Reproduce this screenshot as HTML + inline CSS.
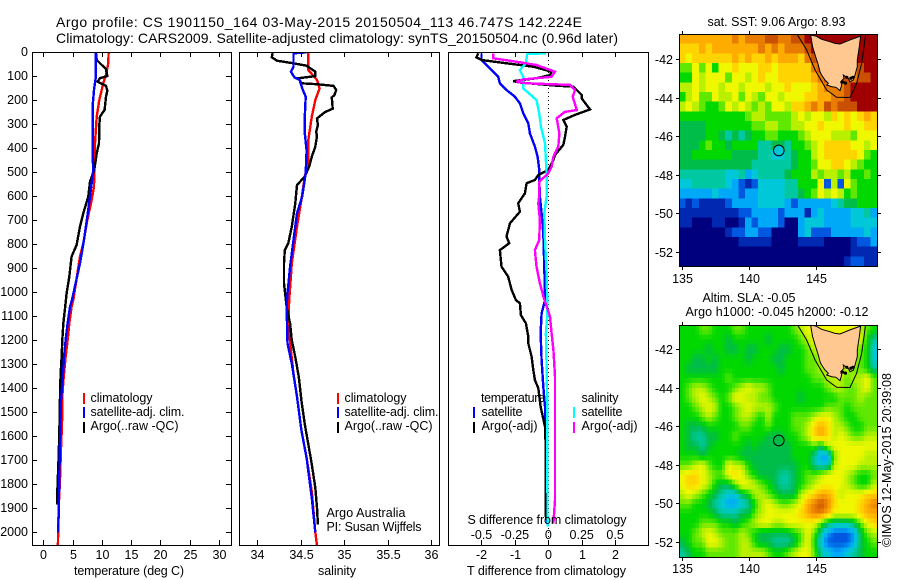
<!DOCTYPE html>
<html>
<head>
<meta charset="utf-8">
<title>Argo profile</title>
<style>
html,body{margin:0;padding:0;background:#fff;}
svg{display:block;}
text{font-family:"Liberation Sans",sans-serif;fill:#000;font-size:12.5px;}
.title{font-size:14px;}
</style>
</head>
<body>
<svg id="chart" xmlns="http://www.w3.org/2000/svg" width="900" height="580" viewBox="0 0 900 580">
  <defs>
    <clipPath id="clip-t"><rect x="32" y="52" width="200" height="494"/></clipPath>
    <clipPath id="clip-s"><rect x="239" y="52" width="201" height="494"/></clipPath>
    <clipPath id="clip-d"><rect x="448" y="52" width="201" height="494"/></clipPath>
    <clipPath id="clip-m1"><rect x="679" y="34" width="198" height="232"/></clipPath>
    <clipPath id="clip-m2"><rect x="679" y="325" width="198" height="232"/></clipPath>
  </defs>
  <g id="layer-maps"></g>
  <g id="layer-lines"></g>
  <g id="layer-axes"></g>

  <text class="title" x="56" y="27" textLength="526" lengthAdjust="spacing">Argo profile: CS 1901150_164 03-May-2015 20150504_113 46.747S 142.224E</text>
  <text class="title" x="56" y="43" textLength="562" lengthAdjust="spacing">Climatology: CARS2009. Satellite-adjusted climatology: synTS_20150504.nc (0.96d later)</text>

  <text x="74" y="575" textLength="110" lengthAdjust="spacing">temperature (deg C)</text>
  <text x="318" y="575" textLength="38" lengthAdjust="spacing">salinity</text>
  <text x="467" y="575" textLength="159" lengthAdjust="spacing">T difference from climatology</text>
  <text x="467.5" y="524" textLength="159" lengthAdjust="spacing">S difference from climatology</text>

  <g>
    <rect x="83" y="393" width="2" height="11" fill="#f00"/>
    <rect x="83" y="407" width="2" height="11" fill="#00f"/>
    <rect x="83" y="422" width="2" height="11" fill="#000"/>
    <text x="90.5" y="402" textLength="62" lengthAdjust="spacing">climatology</text>
    <text x="90.5" y="416" textLength="94" lengthAdjust="spacing">satellite-adj. clim.</text>
    <text x="90.5" y="430" textLength="88" lengthAdjust="spacing">Argo(..raw -QC)</text>
  </g>
  <g>
    <rect x="337" y="393" width="2" height="11" fill="#f00"/>
    <rect x="337" y="407" width="2" height="11" fill="#00f"/>
    <rect x="337" y="422" width="2" height="11" fill="#000"/>
    <text x="344.5" y="402" textLength="62" lengthAdjust="spacing">climatology</text>
    <text x="344.5" y="416" textLength="94" lengthAdjust="spacing">satellite-adj. clim.</text>
    <text x="344.5" y="430" textLength="88" lengthAdjust="spacing">Argo(..raw -QC)</text>
    <text x="326.5" y="517" textLength="79" lengthAdjust="spacing">Argo Australia</text>
    <text x="326.5" y="531" textLength="95" lengthAdjust="spacing">PI: Susan Wijffels</text>
  </g>
  <g>
    <text x="481" y="402" textLength="64" lengthAdjust="spacing">temperature</text>
    <text x="481.5" y="416" textLength="41" lengthAdjust="spacing">satellite</text>
    <text x="481.5" y="430" textLength="56" lengthAdjust="spacing">Argo(-adj)</text>
    <rect x="473" y="407" width="2" height="11" fill="#00f"/>
    <rect x="473" y="422" width="2" height="11" fill="#000"/>
    <text x="581.5" y="402" textLength="37" lengthAdjust="spacing">salinity</text>
    <text x="581.5" y="416" textLength="41" lengthAdjust="spacing">satellite</text>
    <text x="581.5" y="430" textLength="56" lengthAdjust="spacing">Argo(-adj)</text>
    <rect x="573" y="407" width="2" height="11" fill="#0ff"/>
    <rect x="573" y="422" width="2" height="11" fill="#f0f"/>
  </g>

  <text x="707.5" y="26" textLength="138" lengthAdjust="spacing">sat. SST: 9.06 Argo: 8.93</text>
  <text x="702.5" y="302" textLength="93" lengthAdjust="spacing">Altim. SLA: -0.05</text>
  <text x="685.5" y="316" textLength="183" lengthAdjust="spacing">Argo h1000: -0.045 h2000: -0.12</text>
  <text transform="translate(891,547) rotate(-90)" x="0" y="0" textLength="174" lengthAdjust="spacing">©IMOS 12-May-2015 20:39:08</text>
</svg>

<script>
// ---- Profile data (depth in dbar, temperature in deg C, salinity in PSU) ----
const tempRedDepth = [0,46,94,129,199,268,379,476,560,629,699,796,851,962,1032,1060,1130,1200,1270,1340,1410,1550,1650,1780,1905,2055];
const tempRedValue = [11.17,11.11,10.71,10.26,9.57,9.12,8.83,8.72,8.66,8.15,7.52,6.84,6.27,5.58,5.13,4.84,4.44,4.16,3.82,3.53,3.3,3.19,3.02,2.85,2.62,2.5];
const tempBlueDepth = [0,101,157,226,435,490,601,685,782,879,976,1032,1060,1130,1200,1270,1367,1450,1620,1780,2000];
const tempBlueValue = [9.0,9.0,8.66,8.43,8.43,8.55,7.98,7.52,6.95,6.27,5.41,4.9,4.56,4.16,3.82,3.53,3.3,3.02,2.85,2.74,2.56];
const tempArgoDepth = [0,32,46,69,99,108,122,140,160,185,240,268,303,379,421,490,539,601,671,726,803,851,935,1004,1060,1130,1200,1270,1340,1435,1590,1690,1830,1885];
const tempArgoValue = [9.0,9.12,9.69,10.7,10.94,9.69,9.29,10.71,10.94,10.71,10.48,9.69,9.57,9.52,9.12,8.72,7.98,7.69,6.84,6.27,5.7,4.84,4.44,3.99,3.75,3.42,3.25,3.13,2.96,2.85,2.74,2.62,2.39,2.39];

const salRedDepth = [0,74,115,150,199,268,365,449,518,615,726,879,1032,1130,1240,1340,1435,1575,1690,1830,2000,2055];
const salRedValue = [34.59,34.59,34.69,34.72,34.67,34.63,34.59,34.59,34.55,34.51,34.46,34.40,34.37,34.36,34.39,34.42,34.46,34.51,34.57,34.63,34.67,34.69];
const salBlueDepth = [0,4,32,60,81,104,115,150,185,268,338,408,504,601,671,782,893,1004,1060,1213,1297,1435,1575,1690,1857,2000];
const salBlueValue = [34.57,34.42,34.42,34.42,34.39,34.43,34.49,34.52,34.56,34.55,34.55,34.57,34.56,34.52,34.46,34.42,34.38,34.35,34.34,34.35,34.40,34.46,34.51,34.57,34.63,34.67];
const salArgoDepth = [0,21,35,46,56,81,99,108,129,133,140,157,178,188,235,249,276,303,331,351,393,435,476,518,553,629,726,796,824,879,962,1025,1060,1130,1200,1270,1353,1450,1550,1633,1717,1814,1897,1967];
const salArgoValue = [34.18,34.17,34.23,34.42,34.57,34.67,34.67,34.48,34.51,34.69,34.88,34.91,34.89,34.86,34.87,34.78,34.69,34.70,34.68,34.69,34.67,34.63,34.60,34.55,34.46,34.44,34.40,34.36,34.32,34.31,34.31,34.33,34.34,34.38,34.40,34.44,34.48,34.51,34.55,34.59,34.63,34.67,34.69,34.70];

const diffTempSatDepth = [4,32,67,102,129,157,185,213,254,296,338,393,435,491,532,601,671,754,893,1032,1088,1171,1282,1393,1476,1588,1726,1963];
const diffTempSatValue = [-2,-2,-1.75,-1.5,-1.45,-1.25,-1,-.85,-.75,-.6,-.55,-.4,-.32,-.27,-.27,-.25,-.2,-.15,-.12,-.1,-.2,-.23,-.2,-.15,-.1,-.07,-.05,-.03];
const diffTempArgoDepth = [4,21,32,46,60,81,95,108,120,126,139,143,178,192,238,261,282,310,352,386,428,449,491,511,532,546,588,629,664,713,768,796,824,893,935,990,1032,1046,1095,1129,1185,1213,1268,1324,1365,1400,1476,1560,1629,1824,1949];
const diffTempArgoValue = [-2.1,-2.15,-2,-1.25,-.45,.1,.05,-.35,-1.05,-.85,.25,.75,1,1,1.25,.8,.45,.55,.5,.45,.2,.15,0,-.3,-.4,-.65,-.7,-.9,-.85,-1.15,-1.25,-1.17,-1.45,-1.4,-1.2,-1.1,-.97,-.85,-.82,-.67,-.6,-.6,-.5,-.45,-.4,-.3,-.23,-.1,-.08,-.08,-.07];
const diffSalSatDepth = [4,7,46,74,102,150,199,254,310,380,504,601,671,782,921,1032,1101,1171,1310,1449,1588,1976];
const diffSalSatValue = [-.018,-.158,-.168,-.213,-.188,-.188,-.088,-.068,-.055,-.025,-.013,-.013,-.03,-.025,-.013,-.008,-.008,-.018,-.013,-.008,-.008,-.005];
const diffSalArgoDepth = [4,25,35,53,81,102,113,123,129,136,157,185,241,248,275,338,393,435,477,504,539,601,629,699,782,824,893,963,1025,1101,1171,1240,1351,1588,1865,1963];
const diffSalArgoValue = [-.413,-.413,-.288,-.088,.05,.025,-.188,-.238,-.163,.163,.2,.183,.213,.125,.063,.083,.075,.038,.025,0,-.068,-.068,-.075,-.063,-.068,-.1,-.088,-.063,-.033,.013,.025,.038,.05,.05,.05,.038];

// ---- Tick labels ----
const depthTicks = [0,100,200,300,400,500,600,700,800,900,1000,1100,1200,1300,1400,1500,1600,1700,1800,1900,2000];
const tempTicks = [0,5,10,15,20,25,30];
const salTicks = [34,34.5,35,35.5,36];
const diffTempTicks = [-2,-1,0,1,2];
const diffSalTicks = [-0.5,-0.25,0,0.25,0.5];
const lonTicks = [135,140,145];
const latTicks = [-42,-44,-46,-48,-50,-52];

// ---- Map data: 0.5 degree rows, north to south; each hex digit is a colour level 0-15 ----
const sstRows = [
"ccccccccdcdddeedde"+"efffffffffff",
"bbbcbcccccccdcdcdd"+"deffffffffff",
"babbbbbbcbcbbcbccc"+"bdeeeeefffff",
"88a8a7aabaaabbabbb"+"bbdeeeeedeff",
"77a9aaa8aa9abaabbb"+"bbcdeeeedeef",
"99a9aa9aa9aaa9aaba"+"aabcdddeffff",
"79a88a99a8a98aa9aa"+"abbccddeffff",
"9a98778a9a9898aa9b"+"bcdcedeeefff",
"777777777789988889"+"a9aa9bababcb",
"666677777778899889"+"9aabaaabaabb",
"666677656567788777"+"89aaa9998aaa",
"666787767777556657"+"789abbbbaa9a",
"667777776666554456"+"779abbbbba87",
"666666666665555556"+"778aabba9877",
"555555544534555567"+"779899897787",
"445555543212444455"+"777a292a8777",
"333334333233444455"+"678a9a978777",
"212111123333444432"+"333334566777",
"111111111223333233"+"313433334453",
"110001100132333200"+"344433334444",
"000000012233220000"+"342223333343",
"000000000111110000"+"111100001223",
"000000000000000000"+"000000001111",
"000000000000000000"+"000000012211"
];
const slaRows = [
"777887778877777778"+"9aaaaaaaa987",
"777777767777767777"+"89aaaaaaaa75",
"777767766766777667"+"789aaaaa9874",
"776676777767776677"+"7889aaa99874",
"766666777777777677"+"78899aa98875",
"777777787777777777"+"7788999899a8",
"7899877789a9987777"+"7777899889a8",
"789a9878aa99887777"+"677777888988",
"7789a97789a9998777"+"777788878888",
"777898778998797778"+"889aa9877888",
"766677777887787778"+"89bcb9987788",
"765566778777766677"+"89bcb9a98899",
"766567777767666667"+"77869aaaaaaa",
"777677777666666667"+"775338aaaa99",
"889a877a9976666666"+"775449aaa999",
"abba988aba87666556"+"7889aaa98778",
"abba97668aa9876556"+"789aaaa98779",
"9a9876544679987666"+"9abccb9aaabb",
"8877654334579a9889"+"acdedbaaabcd",
"7777765556689aaaaa"+"bcddcaaaabcc",
"777888776789aa99aa"+"aaa8655568ab",
"7789a9888987666667"+"8a8532223689",
"6788aa988997665556"+"8a7422223678",
"567788888999987789"+"aa8543345677"
];
const levelColors = ["#00007f","#0028b0","#0058e0","#00a8f8","#00c8d8","#00c8a0","#00bc48","#00d800","#60e800","#b8f000","#f0f800","#ffd400","#ffac00","#e87c00","#c85000","#a00000"];

// ---- Coast and shelf outlines (lon, lat) ----
const landLon = [144.6,144.75,144.93,145.17,145.3,145.42,145.67,145.92,145.8,146.17,146.49,146.79,146.92,146.84,147.09,147.04,147.41,147.54,147.79,147.91,148.08,148.08,148.23,148.33,147.54,146.79,146.42,146.04,145.42,145.0];
const landLat = [-40.755,-41.36,-41.79,-42.31,-42.66,-42.83,-43.09,-43.26,-43.35,-43.44,-43.47,-43.64,-43.35,-43.18,-43.0,-42.83,-43.0,-43.18,-43.09,-42.83,-42.4,-42.05,-41.36,-40.81,-41.01,-41.22,-41.19,-41.1,-40.98,-40.81];
const islandLon = [147.0,147.2,147.3,147.6,147.75];
const islandLat = [-43.2,-43.25,-42.95,-43.0,-42.95];
const shelfLon = [143.61,144.3,144.93,145.8,146.54,147.54,148.03,148.41,148.7];
const shelfLat = [-40.74,-41.53,-42.57,-43.61,-43.99,-44.0,-43.26,-42.22,-40.74];
const floatLon = 142.224;
const floatLat = -46.747;

// ---- Scales ----
const depthY = d => 52.3 + d * 0.24;
const tempX = t => 43.3 + t * 5.85;
const salX = s => 257 + (s - 34) * 87;
const diffTX = t => 548.3 + t * 33.4;
const diffSX = s => 548.3 + s * 133.6;
const lonX = lon => 682 + (lon - 135) * 13.4;
const latY = (lat, lat42) => lat42 + (-42 - lat) * 19.27;

const NS = "http://www.w3.org/2000/svg";
const maps = document.getElementById("layer-maps");
const lines = document.getElementById("layer-lines");
const axes = document.getElementById("layer-axes");

function make(tag, parent, name, attrs) {
  const el = document.createElementNS(NS, tag);
  
  
  for (const k in attrs) el.setAttribute(k, attrs[k]);
  parent.appendChild(el);
  return el;
}

function drawProfile(name, depths, values, xFn, color, clip, width) {
  let d = "";
  depths.forEach((dep, i) => { d += (i ? "L" : "M") + xFn(values[i]).toFixed(1) + " " + depthY(dep).toFixed(1); });
  make("path", lines, name, {d: d, fill: "none", stroke: color, "stroke-width": width, "clip-path": "url(#" + clip + ")", "shape-rendering": "crispEdges", "stroke-linejoin": "miter"});
}

const lineWidth = 2.4;
// Temperature panel
drawProfile("temperature-climatology-line", tempRedDepth, tempRedValue, tempX, "#f00", "clip-t", lineWidth);
drawProfile("temperature-argo-line", tempArgoDepth, tempArgoValue, tempX, "#000", "clip-t", lineWidth);
drawProfile("temperature-satellite-line", tempBlueDepth, tempBlueValue, tempX, "#00f", "clip-t", lineWidth);
// Salinity panel
drawProfile("salinity-climatology-line", salRedDepth, salRedValue, salX, "#f00", "clip-s", lineWidth);
drawProfile("salinity-argo-line", salArgoDepth, salArgoValue, salX, "#000", "clip-s", lineWidth);
drawProfile("salinity-satellite-line", salBlueDepth, salBlueValue, salX, "#00f", "clip-s", lineWidth);
// Difference panel
make("line", lines, "zero-difference-line", {x1: 548.5, x2: 548.5, y1: 52, y2: 545, stroke: "#000", "stroke-width": 1, "stroke-dasharray": "1 3"});
drawProfile("t-difference-satellite-line", diffTempSatDepth, diffTempSatValue, diffTX, "#00f", "clip-d", lineWidth);
drawProfile("t-difference-argo-line", diffTempArgoDepth, diffTempArgoValue, diffTX, "#000", "clip-d", lineWidth);
drawProfile("s-difference-satellite-line", diffSalSatDepth, diffSalSatValue, diffSX, "#0ff", "clip-d", lineWidth);
drawProfile("s-difference-argo-line", diffSalArgoDepth, diffSalArgoValue, diffSX, "#f0f", "clip-d", lineWidth);

// Panel frames and ticks
function drawFrame(name, x0, x1, y0, y1) {
  make("rect", axes, name, {x: x0 + 0.5, y: y0 + 0.5, width: x1 - x0, height: y1 - y0, fill: "none", stroke: "#000", "stroke-width": 1, "shape-rendering": "crispEdges"});
}
function drawTick(name, x1, y1, x2, y2) {
  make("line", axes, name, {x1: x1, y1: y1, x2: x2, y2: y2, stroke: "#000", "stroke-width": 1, "shape-rendering": "crispEdges"});
}
function drawLabel(name, text, x, y, anchor) {
  const el = make("text", axes, name, {x: x, y: y, "text-anchor": anchor});
  el.textContent = text;
}

drawFrame("temperature-panel-frame", 32, 231, 52, 545);
drawFrame("salinity-panel-frame", 239, 439, 52, 545);
drawFrame("difference-panel-frame", 448, 648, 52, 545);

depthTicks.forEach(d => {
  const y = Math.round(depthY(d)) + 0.5;
  drawTick("depth-tick-left", 32, y, 37, y);
  drawTick("depth-tick-right", 226, y, 231, y);
  drawLabel("depth-tick-label", String(d), 28, y + 3.5, "end");
});
tempTicks.forEach(t => {
  const x = Math.round(tempX(t)) + 0.5;
  drawTick("temperature-tick-bottom", x, 545, x, 540);
  drawTick("temperature-tick-top", x, 52, x, 57);
  drawLabel("temperature-tick-label", String(t), x, 559, "middle");
});
salTicks.forEach(s => {
  const x = Math.round(salX(s)) + 0.5;
  drawTick("salinity-tick-bottom", x, 545, x, 540);
  drawTick("salinity-tick-top", x, 52, x, 57);
  drawLabel("salinity-tick-label", String(s), x, 559, "middle");
});
diffTempTicks.forEach(t => {
  const x = Math.round(diffTX(t)) + 0.5;
  drawTick("t-difference-tick-bottom", x, 545, x, 540);
  drawTick("t-difference-tick-top", x, 52, x, 57);
  drawLabel("t-difference-tick-label", String(t), x, 559, "middle");
});
diffSalTicks.forEach(s => {
  const x = diffSX(s);
  drawLabel("s-difference-tick-label", String(s), x, 539, "middle");
});

// Heatmaps
function level(rows, r, c) {
  const row = rows[Math.max(0, Math.min(rows.length - 1, r))];
  const ch = row.charAt(Math.max(0, Math.min(row.length - 1, c)));
  return parseInt(ch, 16);
}
function hexToRgb(h) {
  return [parseInt(h.slice(1, 3), 16), parseInt(h.slice(3, 5), 16), parseInt(h.slice(5, 7), 16)];
}
function levelColor(v) {
  const i = Math.floor(v), f = v - i;
  const a = hexToRgb(levelColors[i]), b = hexToRgb(levelColors[Math.min(15, i + 1)]);
  return "rgb(" + a.map((x, k) => Math.round(x + (b[k] - x) * f)).join(",") + ")";
}

function drawMapFeatures(prefix, group, lat42, clip, fillMarker, landFill) {
  const landPts = landLon.map((lon, i) => lonX(lon).toFixed(1) + "," + latY(landLat[i], lat42).toFixed(1)).join(" ");
  const shelfPts = shelfLon.map((lon, i) => lonX(lon).toFixed(1) + "," + latY(shelfLat[i], lat42).toFixed(1)).join(" ");
  make("polyline", group, prefix + "-shelf-contour", {points: shelfPts, fill: "none", stroke: "#000", "stroke-width": 1, "clip-path": "url(#" + clip + ")"});
  make("polygon", group, prefix + "-tasmania-land", {points: landPts, fill: landFill, stroke: "#000", "stroke-width": 1, "clip-path": "url(#" + clip + ")"});
  islandLon.forEach((lon, i) => {
    make("circle", group, prefix + "-coast-speck", {cx: lonX(lon), cy: latY(islandLat[i], lat42), r: 1.6, fill: "#000"});
  });
  make("circle", group, prefix + "-float-marker", {cx: lonX(floatLon), cy: latY(floatLat, lat42), r: 5.3, fill: fillMarker, stroke: "#000", "stroke-width": 1});
}
function drawMapAxes(prefix, top, bottom, lat42, lonLabelY) {
  drawFrame(prefix + "-frame", 679, 877, top, bottom);
  lonTicks.forEach(lon => {
    const x = Math.round(lonX(lon)) + 0.5;
    drawTick(prefix + "-lon-tick-top", x, top, x, top - 3);
    drawTick(prefix + "-lon-tick-bottom", x, bottom + 1, x, bottom + 4);
    drawLabel(prefix + "-lon-tick-label", String(lon), x, lonLabelY, "middle");
  });
  latTicks.forEach(lat => {
    const y = Math.round(latY(lat, lat42)) + 0.5;
    drawTick(prefix + "-lat-tick-left", 679, y, 676, y);
    drawTick(prefix + "-lat-tick-right", 878, y, 881, y);
    drawLabel(prefix + "-lat-tick-label", String(lat), 673, y + 4.5, "end");
  });
}

// SST map (coarse cells)
const sstGroup = make("g", maps, "sst-map", {"clip-path": "url(#clip-m1)"});
const sstCols = 30, sstCount = sstRows.length;
for (let r = 0; r < sstCount; r++) {
  for (let c = 0; c < sstCols; c++) {
    const cell = document.createElementNS(NS, "rect");
    
    
    cell.setAttribute("x", (679 + c * 198 / sstCols).toFixed(2));
    cell.setAttribute("y", (34 + r * 232 / sstCount).toFixed(2));
    cell.setAttribute("width", (198 / sstCols + 0.4).toFixed(2));
    cell.setAttribute("height", (232 / sstCount + 0.4).toFixed(2));
    cell.setAttribute("fill", levelColors[level(sstRows, r, c)]);
    cell.setAttribute("shape-rendering", "crispEdges");
    sstGroup.appendChild(cell);
  }
}
drawMapFeatures("sst-map", maps, 59, "clip-m1", "#00c8d8", "#ffc890");
drawMapAxes("sst-map", 34, 266, 59, 283);

// SLA map (smooth field drawn on a 2x finer display grid)
const slaGroup = make("g", maps, "sla-map", {"clip-path": "url(#clip-m2)"});
const slaCount = slaRows.length, slaCols = 30;
for (let r = 0; r < slaCount * 2; r++) {
  for (let c = 0; c < slaCols * 2; c++) {
    const u = (c + 0.5) / 2 - 0.5, v = (r + 0.5) / 2 - 0.5;
    const c0 = Math.floor(u), r0 = Math.floor(v), fu = u - c0, fv = v - r0;
    const val = level(slaRows, r0, c0) * (1 - fu) * (1 - fv) + level(slaRows, r0, c0 + 1) * fu * (1 - fv)
              + level(slaRows, r0 + 1, c0) * (1 - fu) * fv + level(slaRows, r0 + 1, c0 + 1) * fu * fv;
    const cell = document.createElementNS(NS, "rect");
    
    
    cell.setAttribute("x", (679 + c * 99 / slaCols).toFixed(2));
    cell.setAttribute("y", (325 + r * 116 / slaCount).toFixed(2));
    cell.setAttribute("width", (99 / slaCols + 0.4).toFixed(2));
    cell.setAttribute("height", (116 / slaCount + 0.4).toFixed(2));
    cell.setAttribute("fill", levelColor(val));
    cell.setAttribute("shape-rendering", "crispEdges");
    slaGroup.appendChild(cell);
  }
}
drawMapFeatures("sla-map", maps, 349, "clip-m2", "none", "#ffc890");
drawMapAxes("sla-map", 325, 557, 349, 573);
</script>
</body>
</html>
